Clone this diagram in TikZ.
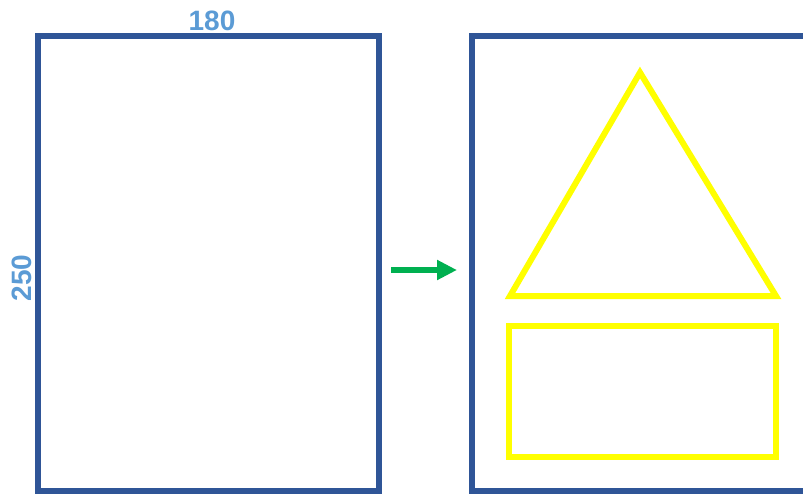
\documentclass[tikz,border=0pt]{standalone}
\usepackage{fontspec}
\setmainfont{Liberation Sans}
\usetikzlibrary{arrows.meta}
\definecolor{frameblue}{HTML}{2F5597}
\definecolor{labelblue}{HTML}{5B9BD5}
\definecolor{arrowgreen}{HTML}{00B050}
\definecolor{shapeyellow}{HTML}{FFFF00}
\begin{document}
\begin{tikzpicture}[x=1pt,y=-1pt,
  framebox/.style={draw=frameblue,line width=6pt,inner sep=0pt,outer sep=0pt},
  yellowshape/.style={draw=shapeyellow,line width=6pt},
  dimlabel/.style={text=labelblue,font=\fontsize{28}{30}\selectfont\bfseries,inner sep=0pt}]
\useasboundingbox (0,0) rectangle (803,493);
\clip (0,0) rectangle (803,493);
\node[framebox,minimum width=340.5pt,minimum height=454.5pt] (left) at (208.25,263.25) {};
\node[framebox,minimum width=380pt,minimum height=454.5pt] (right) at (661.5,263.25) {};
\node[dimlabel] (w) at (212,21) {180};
\node[dimlabel,rotate=90] (h) at (21.5,278) {250};
\coordinate (a1) at (391,270);
\coordinate (a2) at (457,270);
\draw[arrowgreen,line width=6pt,-{Triangle[length=20pt,width=19pt]}] (a1) -- (a2);
\coordinate (t1) at (640,72.5);
\coordinate (t2) at (510,296);
\coordinate (t3) at (776,296);
\draw[yellowshape] (t1) -- (t2) -- (t3) -- cycle;
\node[yellowshape,inner sep=0pt,minimum width=267pt,minimum height=131pt] (box) at (642.5,391.5) {};
\end{tikzpicture}
\end{document}
